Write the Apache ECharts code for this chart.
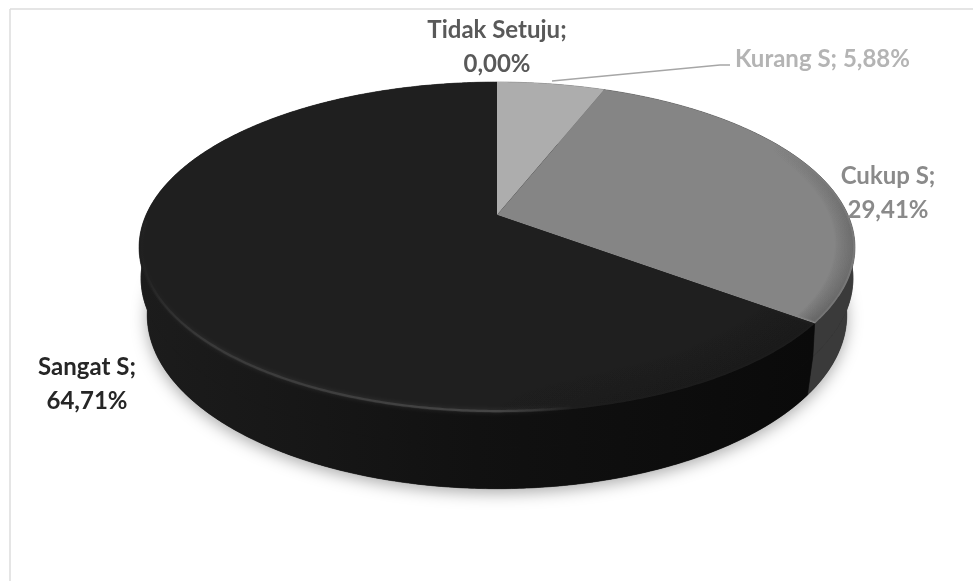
<!DOCTYPE html>
<html><head><meta charset="utf-8">
<style>html,body{margin:0;padding:0;background:#fff}#c{width:973px;height:581px}</style>
<script src="https://cdn.jsdelivr.net/npm/echarts@6/dist/echarts.min.js"></script>
</head><body><div id="c"></div>
<script>
const categories = ['Tidak Setuju', 'Kurang S', 'Cukup S', 'Sangat S'];
const values = [0.00, 5.88, 29.41, 64.71];
const topColors = ['#bdbdbd', '#adadad', '#858585', '#1f1f1f'];
const sideColors = ['#777777', '#6a6a6a', '#3a3a3a', '#111111'];
const labelColors = ['#595959', '#b4b4b4', '#8a8a8a', '#262626'];
const labelLayout = [
  {x: 497, y: 47, align: 'center', wrap: true},
  {x: 735, y: 59, align: 'left', wrap: false},
  {x: 888, y: 193, align: 'center', wrap: true},
  {x: 87, y: 384, align: 'center', wrap: true}
];
const K = 0.196;
const TOPD = {cx: 497, cy: 215, A: 159, B: 351};
const MID = {cx: 497, cy: 245, A: 163, B: 349};
const BOT = {cx: 497, cy: 281, A: 167, B: 343};
const total = values.reduce((a, b) => a + b, 0);
const fmt = v => v.toFixed(2).replace('.', ',') + '%';
function pt(d, deg, r) {
  const t = deg * Math.PI / 180, u = r * Math.sin(t), v = -r * Math.cos(t), den = 1 - K * v;
  return [d.cx + d.B * u / den, d.cy + d.A * v / den];
}
function arc(d, a, b, r) {
  const out = [], n = Math.max(2, Math.ceil(Math.abs(b - a) * 2));
  for (let i = 0; i <= n; i++) out.push(pt(d, a + (b - a) * i / n, r === undefined ? 1 : r));
  return out;
}
function range(i) {
  let s = 0;
  for (let j = 0; j < i; j++) s += values[j];
  return [s / total * 360, (s + values[i]) / total * 360];
}
const hGrad = stops => ({type: 'linear', x: 0, y: 0, x2: 1, y2: 0, colorStops: stops});
const vGrad = stops => ({type: 'linear', x: 0, y: 0, x2: 0, y2: 1, colorStops: stops});
const data = categories.map((c, i) => [c, values[i]]);

function renderSide(params, api) {
  const i = params.dataIndex, v = api.value(1), ch = [];
  if (i === 0) {
    ch.push({type: 'polygon', shape: {points: arc(BOT, 0, 360)},
      style: {fill: '#111', shadowBlur: 16, shadowColor: 'rgba(0,0,0,0.34)', shadowOffsetY: 4}});
  }
  if (v > 0) {
    const [a, b] = range(i);
    const fill = i === 3
      ? hGrad([{offset: 0, color: '#1c1c1c'}, {offset: 0.5, color: '#111111'}, {offset: 1, color: '#0a0a0a'}])
      : sideColors[i];
    [[MID, BOT], [TOPD, MID]].forEach(p => {
      ch.push({type: 'polygon', shape: {points: arc(p[0], a, b).concat(arc(p[1], a, b).reverse())},
        style: {fill: fill, stroke: fill, lineWidth: 0.6}});
    });
  }
  return {type: 'group', children: ch};
}
function renderTop(params, api) {
  const i = params.dataIndex, v = api.value(1), ch = [];
  if (v > 0) {
    const [a, b] = range(i);
    ch.push({type: 'polygon', shape: {points: [pt(TOPD, 0, 0)].concat(arc(TOPD, a, b))},
      style: {fill: topColors[i]}});
    if (i === 2) {
      for (let s = 0; s < 12; s++) {
        const f = s / 11, al = 0.03 + 0.14 * f;
        ch.push({type: 'polyline', shape: {points: arc(TOPD, a + 40, b - 0.5, 0.95 + 0.045 * f)},
          style: {fill: 'none', lineWidth: 3,
            stroke: vGrad([{offset: 0, color: 'rgba(40,40,40,0)'}, {offset: 0.5, color: 'rgba(40,40,40,' + al * 0.8 + ')'},
                           {offset: 1, color: 'rgba(40,40,40,' + al + ')'}])}});
      }
    }
    if (i === 3) {
      for (let s = 0; s < 20; s++) {
        const f = s / 19, al = 0.02 + 0.09 * f;
        ch.push({type: 'polyline', shape: {points: arc(TOPD, a + 0.5, a + 58, 0.86 + 0.135 * f)},
          style: {fill: 'none', lineWidth: 5,
            stroke: hGrad([{offset: 0, color: 'rgba(8,8,8,0)'}, {offset: 0.45, color: 'rgba(8,8,8,' + al * 0.6 + ')'},
                           {offset: 1, color: 'rgba(8,8,8,' + al + ')'}])}});
      }
      ch.push({type: 'polyline', shape: {points: arc(TOPD, 170, 268, 0.993)},
        style: {fill: 'none', lineWidth: 2.2, shadowBlur: 4, shadowColor: 'rgba(90,90,90,0.45)',
          stroke: hGrad([{offset: 0, color: 'rgba(70,70,70,0)'}, {offset: 0.18, color: '#3a3a3a'},
                         {offset: 0.82, color: '#454545'}, {offset: 1, color: 'rgba(70,70,70,0)'}])}});
    }
  }
  const L = labelLayout[i];
  const sep = L.wrap ? '\n' : ' ';
  ch.push({type: 'text', style: {x: L.x, y: L.y, text: categories[i] + ';' + sep + fmt(v),
    fill: labelColors[i], font: 'bold 24px Lato', align: L.align, verticalAlign: 'middle', lineHeight: 34}});
  return {type: 'group', children: ch};
}
const chart = echarts.init(document.getElementById('c'), null, {renderer: 'canvas'});
chart.setOption({
  animation: false,
  backgroundColor: '#ffffff',
  graphic: [
    {type: 'line', silent: true, shape: {x1: 10, y1: 9, x2: 973, y2: 9}, style: {stroke: '#dcdcdc', lineWidth: 1.5}},
    {type: 'line', silent: true, shape: {x1: 10, y1: 9, x2: 10, y2: 581}, style: {stroke: '#dcdcdc', lineWidth: 1.5}},
    {type: 'polyline', silent: true, z: 10, shape: {points: [[552, 81], [720, 65], [730, 65]]}, style: {fill: 'none', stroke: '#a6a6a6', lineWidth: 1.3}}
  ],
  series: [
    {type: 'custom', coordinateSystem: 'none', z: 1, silent: true, data: data, renderItem: renderSide,
     encode: {}, dimensions: ['name', 'value']},
    {type: 'custom', coordinateSystem: 'none', z: 2, silent: true, data: data, renderItem: renderTop,
     encode: {}, dimensions: ['name', 'value']}
  ]
});
</script></body></html>
